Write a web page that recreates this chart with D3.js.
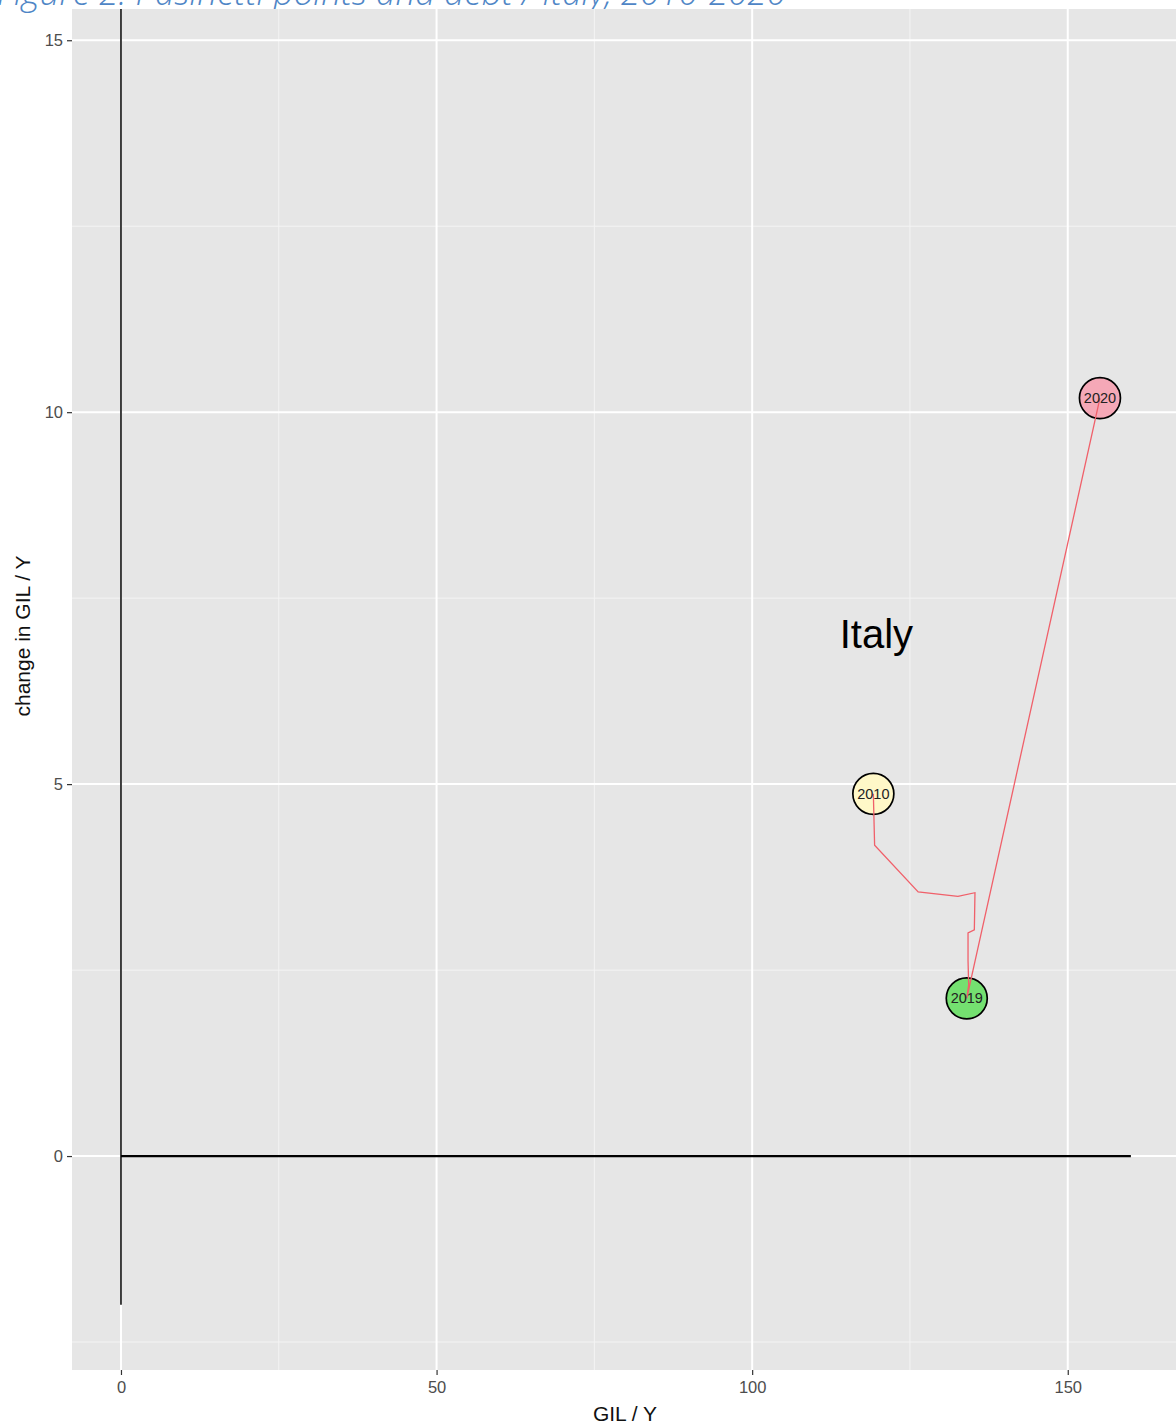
<!DOCTYPE html>
<html>
<head>
<meta charset="utf-8">
<script src="https://cdn.jsdelivr.net/npm/d3@7"></script>
<style>
  body { margin: 0; background: #fff; }
  svg { display: block; font-family: "Liberation Sans", Arial, sans-serif; }
</style>
</head>
<body>
<svg id="chart" width="1176" height="1427"></svg>
<script>
// Italy, debt ratio (GIL / Y) and its change, 2010-2020
const years = [2010, 2011, 2012, 2013, 2014, 2015, 2016, 2017, 2018, 2019, 2020];
const gilY = [119.2, 119.4, 126.3, 132.6, 135.3, 135.2, 134.2, 134.2, 134.3, 134.0, 155.1];
const changeGilY = [4.87, 4.18, 3.55, 3.49, 3.54, 3.04, 3.0, 2.63, 2.3, 2.12, 10.19];

// highlighted years and their fills
const markedYears = [2010, 2019, 2020];
const markedFills = ['#fff8c8', '#74e070', '#f5a8b7'];

const xTicks = [0, 50, 100, 150];
const xMinor = [25, 75, 125];
const yTicks = [0, 5, 10, 15];
const yMinor = [-2.5, 2.5, 7.5, 12.5];

const countryLabel = { name: 'Italy', x: 120, y: 7 };
const hLine = { x0: 0, x1: 160, y: 0 };
const vLine = { x: 0, y0: -2 };

const svg = d3.select('#chart');
const panel = { left: 72, right: 1182, top: 9, bottom: 1370 };

const x = d3.scaleLinear().domain([-7.76, 168.1]).range([panel.left, panel.right]);
const y = d3.scaleLinear().domain([-2.876, 15.42]).range([panel.bottom, panel.top]);

// title, cut off at the top of the picture as in the source
svg.append('text')
    .attr('x', -3)
    .attr('y', 5)
    .attr('font-family', '"Open Sans", sans-serif')
    .attr('font-style', 'italic')
    .attr('font-weight', 300)
    .attr('font-size', 35)
    .attr('fill', '#4f86c6')
    .text('Figure 2: Pasinetti points and debt / Italy, 2010-2020');

// panel background
svg.append('rect')
    .attr('x', panel.left).attr('y', panel.top)
    .attr('width', panel.right - panel.left)
    .attr('height', panel.bottom - panel.top)
    .attr('fill', '#e6e6e6');

const grid = svg.append('g');
grid.selectAll('.xminor').data(xMinor).enter().append('line')
    .attr('x1', d => x(d)).attr('x2', d => x(d))
    .attr('y1', panel.top).attr('y2', panel.bottom)
    .attr('stroke', '#f4f4f4').attr('stroke-width', 1);
grid.selectAll('.yminor').data(yMinor).enter().append('line')
    .attr('y1', d => y(d)).attr('y2', d => y(d))
    .attr('x1', panel.left).attr('x2', panel.right)
    .attr('stroke', '#f4f4f4').attr('stroke-width', 1);
grid.selectAll('.xmajor').data(xTicks).enter().append('line')
    .attr('x1', d => x(d)).attr('x2', d => x(d))
    .attr('y1', panel.top).attr('y2', panel.bottom)
    .attr('stroke', '#fff').attr('stroke-width', 2);
grid.selectAll('.ymajor').data(yTicks).enter().append('line')
    .attr('y1', d => y(d)).attr('y2', d => y(d))
    .attr('x1', panel.left).attr('x2', panel.right)
    .attr('stroke', '#fff').attr('stroke-width', 2);

// axes
const xAxis = svg.append('g')
    .attr('transform', `translate(0,${panel.bottom})`)
    .call(d3.axisBottom(x).tickValues(xTicks).tickSize(5).tickPadding(6));
const yAxis = svg.append('g')
    .attr('transform', `translate(${panel.left},0)`)
    .call(d3.axisLeft(y).tickValues(yTicks).tickSize(5).tickPadding(4));
[xAxis, yAxis].forEach(a => {
    a.select('.domain').remove();
    a.selectAll('line').attr('stroke', '#333').attr('stroke-width', 1.2);
    a.selectAll('text')
        .attr('fill', '#4d4d4d')
        .attr('font-size', 16.5)
        .attr('font-family', '"Liberation Sans", Arial, sans-serif');
});

svg.append('text')
    .attr('x', 625).attr('y', 1421)
    .attr('text-anchor', 'middle')
    .attr('font-size', 21)
    .attr('fill', '#111')
    .text('GIL / Y');
svg.append('text')
    .attr('transform', 'translate(30,636) rotate(-90)')
    .attr('text-anchor', 'middle')
    .attr('font-size', 21)
    .attr('fill', '#111')
    .text('change in GIL / Y');

// reference lines
svg.append('line')
    .attr('x1', x(vLine.x)).attr('x2', x(vLine.x))
    .attr('y1', panel.top).attr('y2', y(vLine.y0))
    .attr('stroke', '#000').attr('stroke-width', 1.5);
svg.append('line')
    .attr('x1', x(hLine.x0)).attr('x2', x(hLine.x1))
    .attr('y1', y(hLine.y)).attr('y2', y(hLine.y))
    .attr('stroke', '#000').attr('stroke-width', 2.2);

const points = years.map((yr, i) => ({ year: yr, gx: gilY[i], gy: changeGilY[i] }));
const marked = points.filter(p => markedYears.includes(p.year));

// circles for the highlighted years
svg.selectAll('circle.mark').data(marked).enter().append('circle')
    .attr('cx', d => x(d.gx))
    .attr('cy', d => y(d.gy))
    .attr('r', 20.5)
    .attr('fill', d => markedFills[markedYears.indexOf(d.year)])
    .attr('stroke', '#000')
    .attr('stroke-width', 1.7);

// path through the years
const line = d3.line().x(d => x(d.gx)).y(d => y(d.gy));
svg.append('path')
    .datum(points)
    .attr('d', line)
    .attr('fill', 'none')
    .attr('stroke', '#f0606a')
    .attr('stroke-width', 1.3);

svg.selectAll('text.yr').data(marked).enter().append('text')
    .attr('x', d => x(d.gx))
    .attr('y', d => y(d.gy) + 5)
    .attr('text-anchor', 'middle')
    .attr('font-size', 14.5)
    .attr('fill', '#222')
    .text(d => d.year);

svg.append('text')
    .attr('x', x(countryLabel.x) - 2)
    .attr('y', y(countryLabel.y) + 13)
    .attr('text-anchor', 'middle')
    .attr('font-size', 40)
    .attr('fill', '#000')
    .text(countryLabel.name);
</script>
</body>
</html>
